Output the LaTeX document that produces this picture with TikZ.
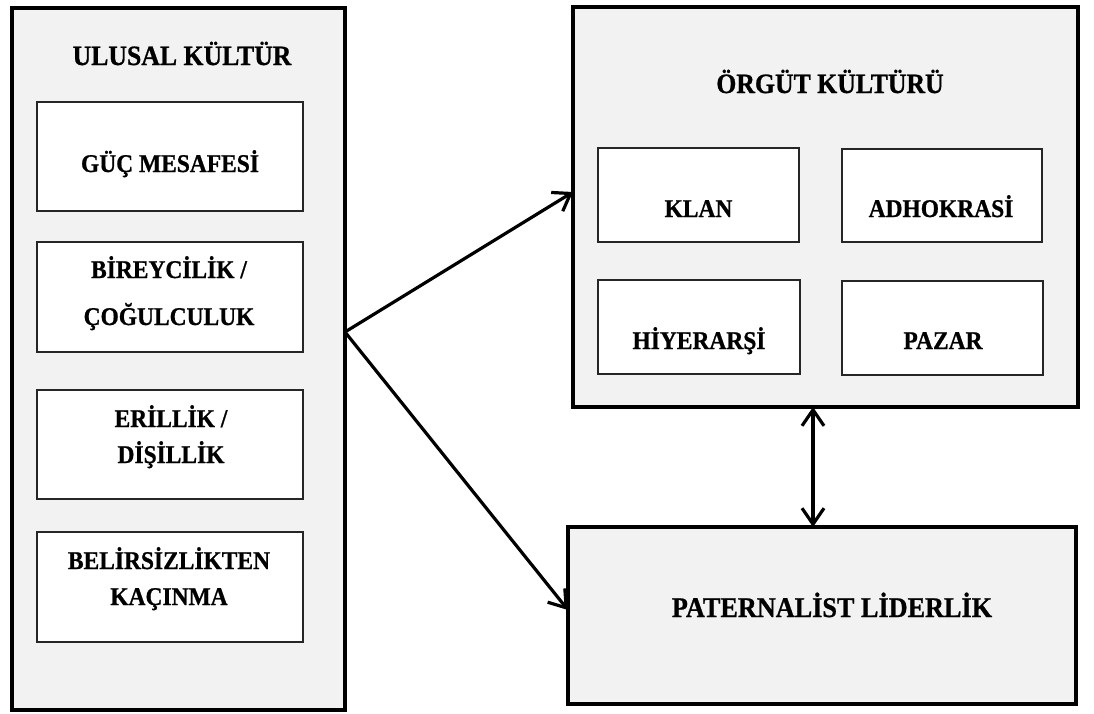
\documentclass[tikz,border=0pt]{standalone}
\usepackage{fontspec}
\setmainfont{Liberation Serif}[FakeStretch=0.92, BoldFeatures={FakeBold=0.8}]
\usetikzlibrary{arrows.meta}
\definecolor{boxgray}{HTML}{F2F2F2}
\tikzset{
  bigbox/.style={draw=black, line width=4pt, fill=boxgray, rectangle, inner sep=0pt, outer sep=0pt},
  ibox/.style={draw=black!85, line width=1.2pt, fill=white, rectangle, inner sep=0pt, outer sep=0pt},
  ttl/.style={font=\fontsize{28}{33}\selectfont\bfseries, anchor=base, inner sep=0pt},
  bigttl/.style={font=\fontsize{28.5}{33}\selectfont\bfseries, anchor=base, inner sep=0pt},
  itxt/.style={font=\fontsize{25.5}{30}\selectfont\bfseries, anchor=base, inner sep=0pt, align=center},
  arr/.style={line width=3.2pt, -{Straight Barb[length=16pt,width=22pt]}},
  darr/.style={line width=3.2pt, {Straight Barb[length=16pt,width=22pt]}-{Straight Barb[length=16pt,width=22pt]}}
}
\begin{document}
\begin{tikzpicture}[x=1pt,y=-1pt]
\useasboundingbox (0,0) rectangle (1094,713);
% left container
\node[bigbox, minimum width=333pt, minimum height=702pt] (ulusal) at (178.5,359) {};
\node[ttl] (ulusalt) at (182,65) {ULUSAL KÜLTÜR};
\node[ibox, minimum width=266pt, minimum height=109pt] (guc) at (170,156.5) {};
\node[itxt] (guct) at (170,172) {GÜÇ MESAFESİ};
\node[ibox, minimum width=266pt, minimum height=110pt] (bir) at (170,297) {};
\node[itxt] (birt) at (169,325) {BİREYCİLİK /\\[17pt]ÇOĞULCULUK};
\node[ibox, minimum width=266pt, minimum height=109pt] (eri) at (170,444.5) {};
\node[itxt] (erit) at (171,463) {ERİLLİK /\\[6pt]DİŞİLLİK};
\node[ibox, minimum width=266pt, minimum height=110pt] (bel) at (170,587) {};
\node[itxt] (belt) at (169,605) {BELİRSİZLİKTEN\\[6pt]KAÇINMA};
% right top container
\node[bigbox, minimum width=505pt, minimum height=400pt] (orgut) at (825.5,207) {};
\node[ttl] (orgutt) at (830,93) {ÖRGÜT KÜLTÜRÜ};
\node[ibox, minimum width=201pt, minimum height=94pt] (klan) at (698.5,195) {};
\node[itxt] (klant) at (698.5,217) {KLAN};
\node[ibox, minimum width=200pt, minimum height=93pt] (adh) at (942,195.5) {};
\node[itxt] (adht) at (941,217) {ADHOKRASİ};
\node[ibox, minimum width=202pt, minimum height=94pt] (hiy) at (699,327) {};
\node[itxt] (hiyt) at (699,349) {HİYERARŞİ};
\node[ibox, minimum width=201pt, minimum height=94pt] (paz) at (942.5,328) {};
\node[itxt] (pazt) at (943,349) {PAZAR};
% bottom right
\node[bigbox, minimum width=508pt, minimum height=177pt] (pat) at (822,615.5) {};
\node[bigttl] (patt) at (832,617) {PATERNALİST LİDERLİK};
% connectors
\coordinate (src) at ([yshift=27pt]ulusal.east);
\draw[arr] (src) -- ([yshift=15pt]orgut.west);
\draw[arr] (src) -- ([yshift=5.5pt]pat.west);
\draw[darr] ([xshift=-12.5pt]orgut.south) -- ([xshift=-12.5pt]orgut.south |- pat.north);
\end{tikzpicture}
\end{document}
